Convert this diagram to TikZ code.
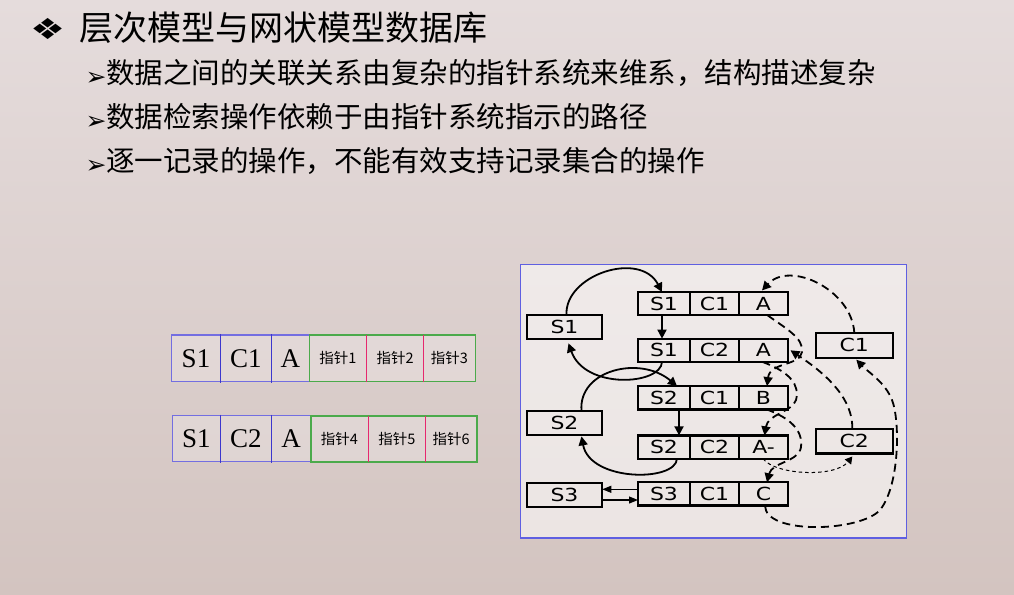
\documentclass[tikz,border=0pt]{standalone}
\usepackage{graphicx}
\usepackage{fontspec}
\setmainfont{Liberation Serif}
\newfontfamily\cjk{Noto Sans CJK SC}
\newfontfamily\sym{DejaVu Sans}
\newfontfamily\recfont[FakeStretch=1.22]{DejaVu Sans}
\usetikzlibrary{arrows.meta,calc}

\definecolor{bgtop}{RGB}{229,220,220}
\definecolor{bgbot}{RGB}{211,196,192}
\definecolor{frameblue}{RGB}{95,95,225}
\definecolor{cellblue}{RGB}{115,110,225}
\definecolor{cellblued}{RGB}{60,55,205}
\definecolor{cellgreen}{RGB}{75,170,75}
\definecolor{cellpink}{RGB}{230,40,110}

\begin{document}
\begin{tikzpicture}[x=1pt,y=-1pt,
  titlefont/.style={font=\cjk\fontsize{34}{40}\selectfont},
  linefont/.style={font=\cjk\fontsize{28.5}{34}\selectfont},
  tcell/.style={inner sep=0pt, outer sep=0pt, anchor=center},
  serifcell/.style={tcell, font=\fontsize{27}{30}\selectfont},
  ptrcell/.style={tcell, font=\cjk\fontsize{14.5}{17}\selectfont},
  tblue/.style={draw=cellblue, line width=1.4pt},
  tblued/.style={draw=cellblued, line width=1pt},
  tgreen/.style={draw=cellgreen, line width=1.6pt},
  tpink/.style={draw=cellpink, line width=1.3pt},
  rc/.style={draw, line width=1.1pt, minimum height=23.3pt, inner sep=0pt, outer sep=0pt,
    font=\recfont\fontsize{18}{20}\selectfont},
  recframe/.style={draw, line width=2.3pt},
  sidebox/.style={draw, line width=2.2pt, minimum width=75.6pt, minimum height=24pt,
    inner sep=0pt, outer sep=0pt, font=\recfont\fontsize{18}{20}\selectfont},
  sarrow/.style={line width=1.8pt, -{Triangle[length=9pt,width=9pt]}},
  tharrow/.style={line width=1.1pt, -{Triangle[length=9pt,width=7pt]}},
  darrow/.style={line width=1.8pt, dash pattern=on 8pt off 5pt, -{Triangle[length=9pt,width=9pt]}},
  tdarrow/.style={line width=1pt, dash pattern=on 3.5pt off 3pt, -{Triangle[length=7pt,width=8pt]}},
  bulletmark/.style={inner sep=0pt, font=\sym\fontsize{25}{28}\selectfont}
]
\useasboundingbox (0,0) rectangle (1014,594);
\shade[top color=bgtop, bottom color=bgbot] (0,0) rectangle (1014,594);

% heading and bullet lines
\node[inner sep=0pt, font=\sym\fontsize{29}{32}\selectfont] (hmark) at (48.5,29) {\scalebox{1.35}[1]{❖}};
\node[titlefont, anchor=base west, inner sep=0pt] (title) at (79,41) {层次模型与网状模型数据库};

\node[bulletmark] (m1) at (96,78.5) {➢};
\node[linefont, anchor=base west, inner sep=0pt] (l1) at (106,83.5) {数据之间的关联关系由复杂的指针系统来维系，结构描述复杂};
\node[bulletmark] (m2) at (96,122.5) {➢};
\node[linefont, anchor=base west, inner sep=0pt] (l2) at (106,127.5) {数据检索操作依赖于由指针系统指示的路径};
\node[bulletmark] (m3) at (96,166.5) {➢};
\node[linefont, anchor=base west, inner sep=0pt] (l3) at (106,171.5) {逐一记录的操作，不能有效支持记录集合的操作};

% light backing behind the two field layouts
\fill[white, opacity=.22] (171.7,335) rectangle (475.3,381.7);
\fill[white, opacity=.22] (172.3,415.7) rectangle (477,461.7);

% record layout with pointer fields, first record
\node[serifcell, minimum width=48.6pt, minimum height=46.7pt] (aS) at (196,358.3) {S1};
\node[serifcell, minimum width=51pt, minimum height=46.7pt] (aC) at (245.8,358.3) {C1};
\node[serifcell, minimum width=38pt, minimum height=46.7pt] (aA) at (290.3,358.3) {A};
\node[ptrcell, minimum width=57.4pt, minimum height=46.7pt] (aP1) at (338,358.3) {指针1};
\node[ptrcell, minimum width=57pt, minimum height=46.7pt] (aP2) at (395.2,358.3) {指针2};
\node[ptrcell, minimum width=51.6pt, minimum height=46.7pt] (aP3) at (449.5,358.3) {指针3};
\draw[tblue] (aS.north west) rectangle (aA.south east);
\draw[tgreen] (aP1.north west) rectangle (aP3.south east);
\draw[tblued] ($(aS.north east)+(0,-1)$) -- ($(aS.south east)+(0,1)$);
\draw[tblued] ($(aC.north east)+(0,-1)$) -- ($(aC.south east)+(0,1)$);
\draw[tpink] (aP1.north east) -- (aP1.south east);
\draw[tpink] (aP2.north east) -- (aP2.south east);

% second record
\node[serifcell, minimum width=48pt, minimum height=46pt] (bS) at (196.3,438.7) {S1};
\node[serifcell, minimum width=51pt, minimum height=46pt] (bC) at (245.8,438.7) {C2};
\node[serifcell, minimum width=39.4pt, minimum height=46pt] (bA) at (291,438.7) {A};
\node[ptrcell, minimum width=57.6pt, minimum height=46pt] (bP1) at (339.5,438.7) {指针4};
\node[ptrcell, minimum width=57pt, minimum height=46pt] (bP2) at (396.8,438.7) {指针5};
\node[ptrcell, minimum width=51.7pt, minimum height=46pt] (bP3) at (451.15,438.7) {指针6};
\draw[tblue] (bS.north west) rectangle (bA.south east);
\draw[tgreen] (bP1.north west) rectangle (bP3.south east);
\draw[tblued] ($(bS.north east)+(0,-1)$) -- ($(bS.south east)+(0,1)$);
\draw[tblued] ($(bC.north east)+(0,-1)$) -- ($(bC.south east)+(0,1)$);
\draw[tpink] (bP1.north east) -- (bP1.south east);
\draw[tpink] (bP2.north east) -- (bP2.south east);

% network diagram frame
\draw[draw=frameblue, line width=1.3pt, fill=white, fill opacity=.55] (520.5,264.5) rectangle (906.5,538);

% link records
\foreach \r/\y/\s/\c/\v in {1/303.6/S1/C1/A, 2/350.3/S1/C2/A, 3/397.7/S2/C1/B, 4/447/S2/C2/A-, 5/493.9/S3/C1/C}{
  \node[rc, minimum width=52pt] (r\r s) at (664,\y) {\s};
  \node[rc, minimum width=49pt] (r\r c) at (714.5,\y) {\c};
  \node[rc, minimum width=49pt] (r\r v) at (763.5,\y) {\v};
  \draw[recframe] (r\r s.north west) rectangle (r\r v.south east);
}

% owner records
\node[sidebox] (S1box) at (564.5,327.3) {S1};
\node[sidebox] (S2box) at (564.5,422.9) {S2};
\node[sidebox] (S3box) at (564.5,495) {S3};
\node[sidebox, minimum width=76.7pt, minimum height=24.7pt] (C1box) at (854.3,345.3) {C1};
\node[sidebox, minimum width=76.7pt, minimum height=24.7pt] (C2box) at (854.3,441.2) {C2};

% student chains (solid)
\draw[sarrow] ($(S1box.north)+(2,0)$) .. controls (564,275) and (640,250) .. ($(r1s.north)+(-2,0)$);
\draw[sarrow] ($(r1s.south)+(-2,0)$) -- ($(r2s.north)+(-2,0)$);
\draw[sarrow] ($(r2s.south)+(-2,0)$) .. controls (661,385) and (585,390) .. ($(S1box.south)+(4,4)$);
\draw[sarrow] ($(S2box.north)+(17,0)$) .. controls (578,370) and (640,355) .. ($(r3s.north)+(13,0)$);
\draw[sarrow] ($(r3s.south)+(15,0)$) -- ($(r4s.north)+(15,0)$);
\draw[sarrow] ($(r4s.south)+(13,0)$) .. controls (676,482) and (590,482) .. ($(S2box.south)+(17,1.5)$);
\coordinate (g1) at ($(r5s.west)+(0,-4.6)$);
\coordinate (g2) at ($(S3box.east)+(0,5)$);
\draw[tharrow] (g1) -- (g1 -| S3box.east);
\draw[tharrow] (g2) -- (g2 -| r5s.west);

% course chains (dashed)
\draw[darrow] (C1box.north) .. controls (852,290) and (790,260) .. ($(r1v.north)+(-1.5,-1.5)$);
\draw[darrow] ($(r1v.south)+(4,0)$) .. controls (785,328) and (804,338) .. (802,352)
  .. controls (800,366) and (770,362) .. ($(r3v.north)+(3.5,0)$);
\draw[darrow] ($(r3v.south)+(3,0)$) .. controls (790,418) and (803,430) .. (801,447)
  .. controls (799,462) and (772,462) .. ($(r5v.north)+(3.5,0)$);
\draw[darrow] ($(r5v.south)+(1.5,0)$) .. controls (765,535) and (860,532) .. (880,510)
  .. controls (900,485) and (900,420) .. (892,400)
  .. controls (885,382) and (868,372) .. ($(C1box.south)+(2,2)$);
\draw[darrow] ($(C2box.north)+(-2,0)$) .. controls (853,395) and (820,370) .. ($(r2v.east)+(2.5,0)$);
\draw[darrow] ($(r2v.south)+(-1,0)$) .. controls (790,372) and (800,385) .. (796,400)
  .. controls (792,412) and (768,414) .. ($(r4v.north)+(1,0)$);
\draw[tdarrow] ($(r4v.south)+(-0.5,0)$) .. controls (775,475) and (835,478) .. ($(C2box.south)+(-2,3)$);
\end{tikzpicture}
\end{document}
